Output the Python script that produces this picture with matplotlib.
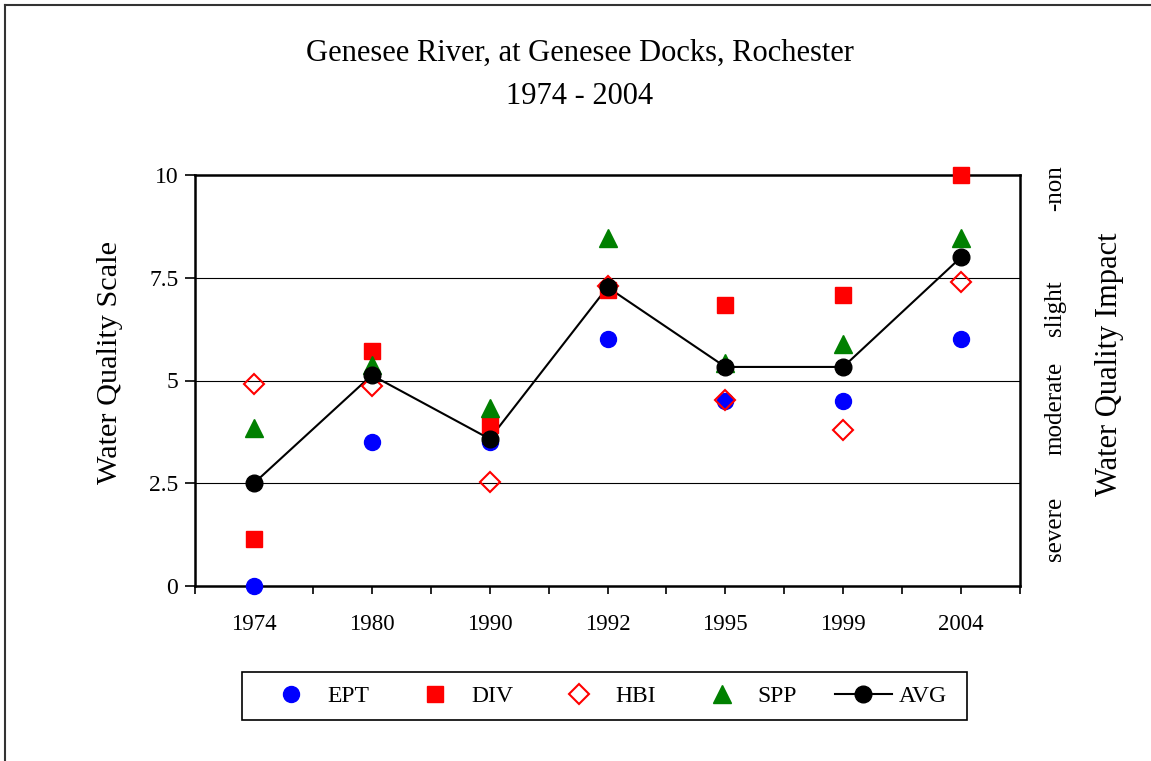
import matplotlib
matplotlib.use("Agg")
import matplotlib.pyplot as plt
from matplotlib.lines import Line2D
from matplotlib.patches import Rectangle
import numpy as np

plt.rcParams['font.family'] = ['Liberation Serif', 'DejaVu Serif']

years = ["1974", "1980", "1990", "1992", "1995", "1999", "2004"]
ept = [0.0, 3.5, 3.5, 6.0, 4.5, 4.5, 6.0]
div = [1.15, 5.72, 3.92, 7.2, 6.84, 7.08, 10.0]
hbi = [4.91, 4.87, 2.53, 7.3, 4.53, 3.8, 7.4]
spp = [3.84, 5.38, 4.33, 8.47, 5.43, 5.89, 8.47]
avg = [2.5, 5.13, 3.58, 7.27, 5.33, 5.33, 8.0]
impact_labels = ["severe", "moderate", "slight", "-non"]
impact_pos = [1.4, 4.33, 6.76, 9.68]

W, H = 1151, 761
fig = plt.figure(figsize=(W / 100, H / 100), dpi=100)
ax = fig.add_axes([195 / W, 1 - 586 / H, 825 / W, 411 / H])

x = np.arange(len(years))
for yv in [2.5, 5, 7.5]:
    ax.axhline(yv, color='black', lw=0.8, zorder=1)

ax.plot(x, avg, color='black', lw=1.5, zorder=2)
ax.plot(x, ept, 'o', color='#0000FF', ms=11.5, mec='#0000FF', zorder=3, clip_on=False)
ax.plot(x, div, 's', color='#FF0000', ms=11, mec='#FF0000', zorder=3, clip_on=False)
ax.plot(x, hbi, 'D', mfc='none', mec='#FF0000', mew=1.5, ms=10.5, zorder=4, clip_on=False)
ax.plot(x, spp, '^', color='#008000', ms=13, mec='#008000', zorder=3, clip_on=False)
ax.plot(x, avg, 'o', color='black', ms=12, zorder=5, clip_on=False)

ax.set_xlim(-0.5, len(years) - 0.5)
ax.set_ylim(0, 10)
ax.set_xticks(x)
ax.set_xticklabels(years, fontsize=16.5)
ax.set_xticks(np.arange(-0.5, len(years), 1.0), minor=True)
ax.tick_params(axis='x', which='both', direction='out', length=6, width=1.2, pad=14)
ax.set_yticks([0, 2.5, 5, 7.5, 10])
ax.set_yticklabels(["0", "2.5", "5", "7.5", "10"], fontsize=17)
ax.tick_params(axis='y', direction='out', length=7, width=1.2, pad=5)
for s in ax.spines.values():
    s.set_linewidth(1.8)

ax.set_ylabel("Water Quality Scale", fontsize=21.8)
ax.yaxis.set_label_coords((123 - 195) / 825, (586 - 362) / 411)

for lab, pos in zip(impact_labels, impact_pos):
    ax.text((1055 - 195) / 825, pos, lab, rotation=90, fontsize=18,
            ha='center', va='center', transform=ax.get_yaxis_transform())
ax.text((1110 - 195) / 825, 0.54, "Water Quality Impact", rotation=90, fontsize=22,
        ha='center', va='center', transform=ax.transAxes)

fig.text(580 / W, 1 - 53 / H, "Genesee River, at Genesee Docks, Rochester",
         fontsize=22, ha='center', va='center')
fig.text(580 / W, 1 - 96 / H, "1974 - 2004", fontsize=22, ha='center', va='center')

handles = [
    Line2D([], [], ls='none', marker='o', color='#0000FF', ms=11.5),
    Line2D([], [], ls='none', marker='s', color='#FF0000', ms=11),
    Line2D([], [], ls='none', marker='D', mfc='none', mec='#FF0000', mew=1.5, ms=10.5),
    Line2D([], [], ls='none', marker='^', color='#008000', ms=13),
    Line2D([], [], ls='-', lw=1.5, marker='o', color='black', ms=12),
]
leg = fig.legend(handles, ["EPT", "DIV", "HBI", "SPP", "AVG"], ncol=5,
                 loc='center', bbox_to_anchor=(605 / W, 1 - 696 / H),
                 fontsize=17, frameon=False,
                 handlelength=2.42, columnspacing=1.6, handletextpad=0.3,
                 borderpad=0.2, borderaxespad=0)
# legend box
fig.add_artist(Rectangle((242 / W, 1 - 720 / H), (967 - 242) / W, 48 / H,
                         transform=fig.transFigure, fill=False,
                         edgecolor='black', lw=1.2))

# figure border (left and top visible)
fig.add_artist(Line2D([5 / W, 5 / W], [0, 1 - 5 / H], color='#333333', lw=1.5))
fig.add_artist(Line2D([5 / W, 1], [1 - 5 / H, 1 - 5 / H], color='#333333', lw=1.5))

fig.savefig("out.png", dpi=100)
